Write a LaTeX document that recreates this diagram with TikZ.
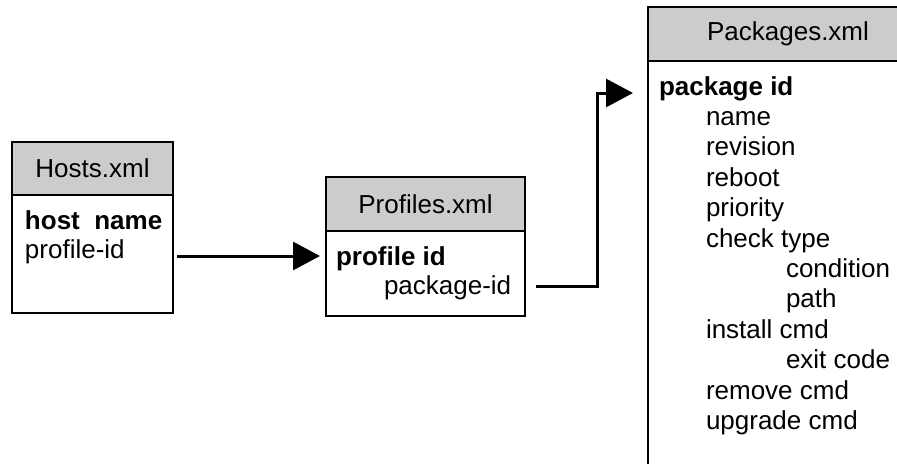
\documentclass[tikz,border=0pt]{standalone}
\usepackage{fontspec}
\setmainfont{Liberation Sans}
\usetikzlibrary{arrows.meta}
\definecolor{hdrgray}{RGB}{204,204,204}
\begin{document}
\begin{tikzpicture}[x=0.75pt,y=-0.75pt,
  every node/.style={font=\fontsize{19.5}{23}\selectfont, inner sep=0pt, outer sep=0pt},
  hdr/.style={draw, fill=hdrgray, line width=1.1pt, anchor=north west},
  body/.style={draw, fill=white, line width=1.1pt, anchor=north west},
  lbl/.style={anchor=base west},
  conn/.style={line width=2.25pt, -{Triangle[length=20.25pt,width=21pt]}}]
\useasboundingbox (0,0) rectangle (897,464);
\clip (0,0) rectangle (897,464);

% Hosts
\node[hdr, minimum width=120.75pt, minimum height=39.75pt] (hostsH) at (12,142) {Hosts.xml};
\node[body, minimum width=120.75pt, minimum height=88.5pt] (hostsB) at (hostsH.south west) {};
\node[lbl] (hn) at (25,229) {\textbf{host\ \ name}};
\node[lbl] (hp) at (25,258) {profile-id};

% Profiles
\node[hdr, minimum width=149.25pt, minimum height=40.5pt] (profH) at (326,177) {Profiles.xml};
\node[body, minimum width=149.25pt, minimum height=63.75pt] (profB) at (profH.south west) {};
\node[lbl] (pi) at (336,265) {\textbf{profile id}};
\node[lbl] (pk) at (384,294) {package-id};

% Packages
\node[hdr, minimum width=210pt, minimum height=40.5pt] (pkgH) at (648,7) {Packages.xml};
\node[body, minimum width=210pt, minimum height=330pt] (pkgB) at (pkgH.south west) {};
\node[lbl] (p0) at (659,95) {\textbf{package id}};
\node[lbl] (p1) at (706,125.4) {name};
\node[lbl] (p2) at (706,155.8) {revision};
\node[lbl] (p3) at (706,186.2) {reboot};
\node[lbl] (p4) at (706,216.6) {priority};
\node[lbl] (p5) at (706,247) {check type};
\node[lbl] (p6) at (786,277.4) {condition};
\node[lbl] (p7) at (786,307.8) {path};
\node[lbl] (p8) at (706,338.2) {install cmd};
\node[lbl] (p9) at (786,368.6) {exit code};
\node[lbl] (p10) at (706,399) {remove cmd};
\node[lbl] (p11) at (706,429.4) {upgrade cmd};

% Connectors
\coordinate (a1s) at (177,256);
\coordinate (a1e) at (320,256);
\draw[conn] (a1s) -- (a1e);
\coordinate (a2s) at (536,286);
\coordinate (a2e) at (633,93);
\draw[conn] (a2s) -| ([xshift=-27pt]a2e) -- (a2e);
\end{tikzpicture}
\end{document}
